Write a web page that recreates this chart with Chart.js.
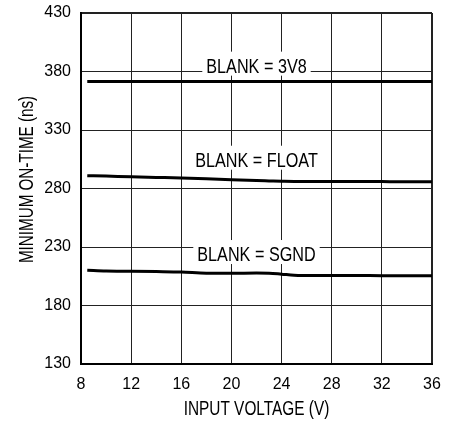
<!DOCTYPE html>
<html>
<head>
<meta charset="utf-8">
<script src="https://cdn.jsdelivr.net/npm/chart.js@4/dist/chart.umd.min.js"></script>
<style>
  html, body { margin: 0; padding: 0; background: #fff; }
  #wrap { width: 462px; height: 423px; }
</style>
</head>
<body>
<div id="wrap"><canvas id="chart" width="462" height="423"></canvas></div>
<script>
// data
const voltage = [8.5, 10, 12, 14, 16, 18, 20, 22, 23, 24, 25, 26, 28, 30, 32, 34, 36];
const blank3V8 = [371.5, 371.5, 371.5, 371.5, 371.5, 371.5, 371.5, 371.5, 371.5, 371.5, 371.5, 371.5, 371.5, 371.5, 371.5, 371.5, 371.5];
const blankFloat = [291, 290.6, 290, 289.5, 289, 288.3, 287.5, 286.8, 286.5, 286.2, 286, 286, 286, 286, 285.9, 285.8, 285.8];
const blankSgnd = [210.2, 209.5, 209.3, 209, 208.6, 207.6, 207.5, 207.7, 207.6, 206.8, 205.9, 205.7, 205.6, 205.6, 205.5, 205.5, 205.5];

const seriesNames = ['BLANK = 3V8', 'BLANK = FLOAT', 'BLANK = SGND'];
// label anchors in data units (x in V, y in ns)
const labelX = [22, 22, 22];
const labelY = [385, 304.6, 224];

const xTitle = 'INPUT VOLTAGE (V)';
const yTitle = 'MINIMUM ON-TIME (ns)';

const toPoints = vals => vals.map((v, i) => ({ x: voltage[i], y: v }));

// curve labels on white boxes, drawn over the grid but under the lines
const curveLabels = {
    id: 'curveLabels',
    beforeDatasetsDraw(chart) {
        const ctx = chart.ctx;
        const xs = chart.scales.x, ys = chart.scales.y;
        ctx.save();
        ctx.font = '20px "Liberation Sans", Arial, sans-serif';
        seriesNames.forEach((txt, i) => {
            const cx = xs.getPixelForValue(labelX[i]);
            const cy = ys.getPixelForValue(labelY[i]);
            const sx = 0.81;
            const w = ctx.measureText(txt).width * sx;
            ctx.fillStyle = '#fff';
            ctx.fillRect(cx - w / 2 - 4, cy - 14, w + 8, 24);
            ctx.save();
            ctx.translate(cx, cy + 7.2);
            ctx.scale(sx, 1);
            ctx.fillStyle = '#000';
            ctx.textAlign = 'center';
            ctx.textBaseline = 'alphabetic';
            ctx.fillText(txt, 0, 0);
            ctx.restore();
        });
        ctx.restore();
    },
    afterDraw(chart) {
        // axis titles, condensed
        const ctx = chart.ctx;
        const a = chart.chartArea;
        ctx.save();
        ctx.font = '20px "Liberation Sans", Arial, sans-serif';
        ctx.fillStyle = '#000';
        ctx.textAlign = 'center';
        ctx.textBaseline = 'alphabetic';
        ctx.save();
        ctx.translate((a.left + a.right) / 2, 414.5);
        ctx.scale(0.77, 1);
        ctx.fillText(xTitle, 0, 0);
        ctx.restore();
        ctx.save();
        ctx.translate(33, 179.5);
        ctx.rotate(-Math.PI / 2);
        ctx.scale(0.76, 1);
        ctx.fillText(yTitle, 0, 0);
        ctx.restore();
        ctx.restore();
    }
};

const lineStyle = {
    borderColor: '#000',
    backgroundColor: '#000',
    borderWidth: 3,
    pointRadius: 0,
    cubicInterpolationMode: 'monotone',
    fill: false
};

new Chart(document.getElementById('chart'), {
    type: 'line',
    data: {
        datasets: [
            { label: seriesNames[0], data: toPoints(blank3V8), ...lineStyle },
            { label: seriesNames[1], data: toPoints(blankFloat), ...lineStyle },
            { label: seriesNames[2], data: toPoints(blankSgnd), ...lineStyle }
        ]
    },
    options: {
        responsive: false,
        animation: false,
        layout: { padding: { top: 13, right: 30, left: 0, bottom: 0 } },
        plugins: { legend: { display: false }, tooltip: { enabled: false } },
        scales: {
            x: {
                type: 'linear',
                min: 8, max: 36,
                ticks: {
                    stepSize: 4,
                    color: '#000',
                    padding: 11,
                    maxRotation: 0,
                    font: { family: '"Liberation Sans", Arial, sans-serif', size: 16 }
                },
                grid: {
                    color: '#222',
                    lineWidth: ctx => (ctx.index === 7 ? 2 : 1),
                    drawTicks: false
                },
                border: { color: '#000', width: 2 },
                afterFit: s => { s.height = 59; s.paddingLeft = 0; s.paddingRight = 0; }
            },
            y: {
                min: 130, max: 430,
                ticks: {
                    stepSize: 50,
                    color: '#000',
                    padding: 10,
                    font: { family: '"Liberation Sans", Arial, sans-serif', size: 16 }
                },
                grid: {
                    color: '#222',
                    lineWidth: ctx => (ctx.index === 6 ? 2 : 1),
                    drawTicks: false
                },
                border: { color: '#000', width: 2 },
                afterFit: s => { s.width = 81; s.paddingTop = 0; s.paddingBottom = 0; }
            }
        }
    },
    plugins: [curveLabels]
});
</script>
</body>
</html>
